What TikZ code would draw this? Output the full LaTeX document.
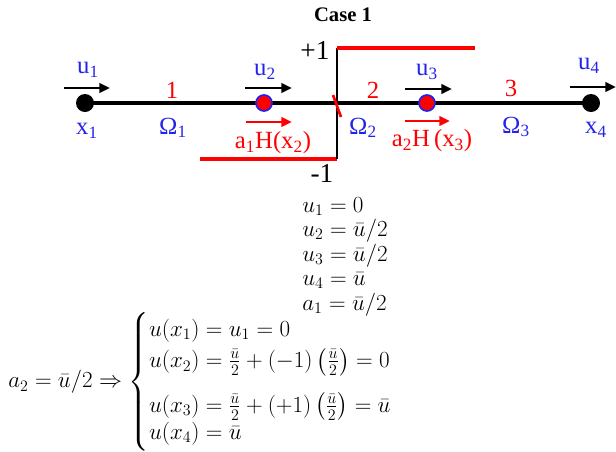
\documentclass[tikz,border=0pt]{standalone}
\usepackage[no-math]{fontspec}
\setmainfont{Liberation Serif}
\usepackage{amsmath}
\usetikzlibrary{arrows.meta,backgrounds}
\definecolor{myred}{RGB}{255,0,0}
\definecolor{myblue}{RGB}{35,35,235}
\begin{document}
\begin{tikzpicture}[x=0.75pt,y=-0.75pt,
  lab/.style={font=\fontsize{18.5}{20}\selectfont, inner sep=0pt},
  biglab/.style={font=\fontsize{20.5}{22}\selectfont, inner sep=0pt},
  mth/.style={font=\fontsize{16.5}{18}\selectfont, inner sep=0pt, anchor=base west},
  arr/.style={-{Triangle[length=8pt,width=7pt]}, line width=2pt},
  enddot/.style={circle, fill=black, minimum size=13.5pt, inner sep=0pt},
  middot/.style={circle, fill=myred, draw=myblue, line width=1.3pt, minimum size=12pt, inner sep=0pt},
  stepred/.style={myred, line width=3pt}]
\useasboundingbox (0,0) rectangle (616,451);

% title
\node[font=\fontsize{15.5}{17}\selectfont\bfseries, inner sep=0pt] (title) at (343,15) {Case 1};

% step function
\coordinate (s1) at (200,159);
\coordinate (s2) at (337,159);
\coordinate (s3) at (337,48);
\coordinate (s4) at (475,48);
\draw[stepred] (s1) -- (s2);
\draw[black, line width=2pt] (s2) -- (s3);
\draw[stepred] (s3) -- (s4);
\node[biglab] (plus) at (315,50) {+1};
\node[biglab] (minus) at (322,173) {-1};

% nodes
\node[enddot] (x1) at (85,103) {};
\node[middot] (x2) at (264,103) {};
\node[middot] (x3) at (427,103) {};
\node[enddot] (x4) at (591,103) {};
\begin{pgfonlayer}{background}
\draw[line width=2.6pt] (x1.center) -- (x4.center);
\end{pgfonlayer}

% red tick
\coordinate (t1) at (333,95);
\coordinate (t2) at (341,117);
\draw[myred, line width=2pt] (t1) -- (t2);

% displacement arrows
\coordinate (a1s) at (64,88);  \coordinate (a1e) at (110,88);
\coordinate (a2s) at (245,88); \coordinate (a2e) at (292,88);
\coordinate (a3s) at (405,89); \coordinate (a3e) at (452,89);
\coordinate (a4s) at (570,87); \coordinate (a4e) at (616,87);
\draw[arr] (a1s) -- (a1e);
\draw[arr] (a2s) -- (a2e);
\draw[arr] (a3s) -- (a3e);
\draw[arr] (a4s) -- (a4e);
\coordinate (r1s) at (246,122); \coordinate (r1e) at (292,122);
\coordinate (r2s) at (405,121); \coordinate (r2e) at (450,121);
\draw[arr, myred] (r1s) -- (r1e);
\draw[arr, myred] (r2s) -- (r2e);

% labels
\node[lab, text=myblue] (lu1) at (88,70) {u\textsubscript{1}};
\node[lab, text=myblue] (lu2) at (265,72) {u\textsubscript{2}};
\node[lab, text=myblue] (lu3) at (427,72) {u\textsubscript{3}};
\node[lab, text=myblue] (lu4) at (589,66) {u\textsubscript{4}};
\node[lab, text=myred] (n1) at (172,90) {1};
\node[lab, text=myred] (n2) at (373,90) {2};
\node[lab, text=myred] (n3) at (511,88) {3};
\node[lab, text=myblue] (o1) at (173,128) {Ω\textsubscript{1}};
\node[lab, text=myblue] (o2) at (363,128) {Ω\textsubscript{2}};
\node[lab, text=myblue] (o3) at (516,127) {Ω\textsubscript{3}};
\node[lab, text=myblue] (lx1) at (87,131) {x\textsubscript{1}};
\node[lab, text=myblue] (lx4) at (596,130) {x\textsubscript{4}};
\node[lab, text=myred] (h1) at (273,143) {a\textsubscript{1}H(x\textsubscript{2})};
\node[lab, text=myred] (h2) at (432,141) {a\textsubscript{2}H\,(x\textsubscript{3})};

% equations
\node[mth] (e1) at (302,212) {$u_1 = 0$};
\node[mth] (e2) at (302,236.5) {$u_2 = \bar{u}/2$};
\node[mth] (e3) at (302,261) {$u_3 = \bar{u}/2$};
\node[mth] (e4) at (302,285.5) {$u_4 = \bar{u}$};
\node[mth] (e5) at (302,310) {$a_1 = \bar{u}/2$};

\node[font=\fontsize{16.5}{18}\selectfont, inner sep=0pt, anchor=west] (sys) at (8,382) {$a_2 = \bar{u}/2 \Rightarrow
\begin{cases}
u(x_1) = u_1 = 0\\[2pt]
u(x_2) = \tfrac{\bar{u}}{2} + (-1)\left(\tfrac{\bar{u}}{2}\right) = 0\\[12pt]
u(x_3) = \tfrac{\bar{u}}{2} + (+1)\left(\tfrac{\bar{u}}{2}\right) = \bar{u}\\[-1.5pt]
u(x_4) = \bar{u}
\end{cases}$};
\end{tikzpicture}
\end{document}
